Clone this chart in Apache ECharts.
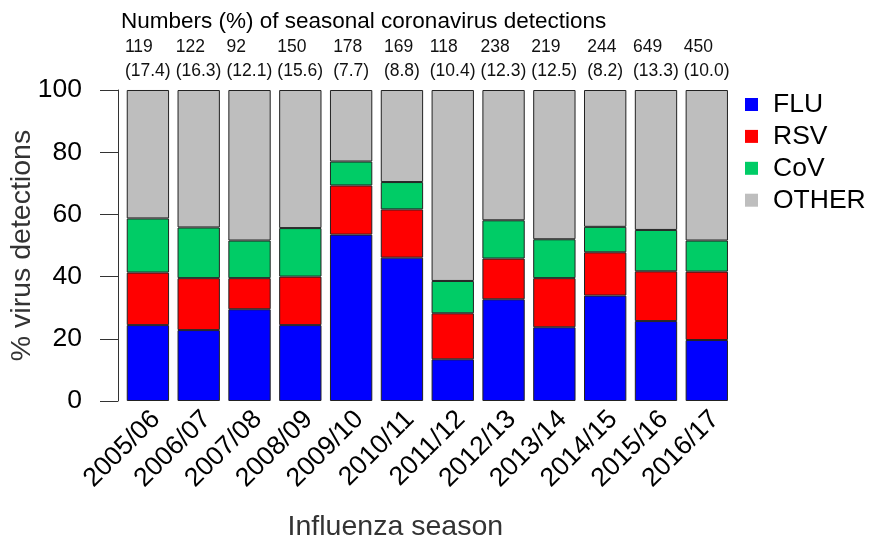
<!DOCTYPE html>
<html>
<head>
<meta charset="utf-8">
<script src="https://cdn.jsdelivr.net/npm/echarts@6/dist/echarts.min.js"></script>
<style>
html,body{margin:0;padding:0;background:#fff;}
#main{width:873px;height:540px;}
</style>
</head>
<body>
<div id="main"></div>
<script>
//季节
var seasons = ['2005/06','2006/07','2007/08','2008/09','2009/10','2010/11','2011/12','2012/13','2013/14','2014/15','2015/16','2016/17'];
//各病毒百分比
var flu = [24.4,22.8,29.5,24.4,53.5,46.1,13.4,32.7,23.7,33.9,25.7,19.6];
var rsv = [16.9,16.7,10.0,15.6,15.8,15.5,14.8,13.1,15.8,13.9,16.0,22.0];
var cov = [17.4,16.3,12.1,15.6,7.7,8.8,10.4,12.3,12.5,8.2,13.3,10.0];
var other = [41.3,44.2,48.4,44.4,23.0,29.6,61.4,41.9,48.0,44.0,45.0,48.4];
//冠状病毒检测数
var covCounts = [119,122,92,150,178,169,118,238,219,244,649,450];
var yTicks = [0,20,40,60,80,100];

var FONT = '"Liberation Sans", Arial, sans-serif';
var numSize = 17.5;

var ctx = document.createElement('canvas').getContext('2d');
ctx.font = numSize + 'px "Liberation Sans"';

//顶部标签
var otherData = other.map(function (v, i) {
    var a = String(covCounts[i]);
    var b = '(' + cov[i].toFixed(1) + ')';
    var w = Math.ceil(Math.max(ctx.measureText(a).width, ctx.measureText(b).width));
    return {
        value: v,
        label: {
            show: true,
            position: 'top',
            distance: 7,
            formatter: '{t|' + a + '}\n{t|' + b + '}',
            rich: {
                t: {width: w, align: 'left', fontSize: numSize, lineHeight: 24, color: '#111', fontFamily: FONT}
            }
        }
    };
});

function bar(name, data, color) {
    return {
        name: name,
        type: 'bar',
        stack: 'all',
        data: data,
        barCategoryGap: '16.67%',
        itemStyle: {color: color, borderColor: '#222', borderWidth: 1},
        emphasis: {disabled: true}
    };
}

var myChart = echarts.init(document.getElementById('main'));
var option = {
    animation: false,
    title: {
        text: 'Numbers (%) of seasonal coronavirus detections',
        left: 121,
        top: 10,
        padding: 0,
        textStyle: {fontSize: 22.5, fontWeight: 'normal', color: '#000', fontFamily: FONT}
    },
    legend: {
        orient: 'vertical',
        left: 740,
        top: 86,
        itemWidth: 13,
        itemHeight: 13,
        itemGap: 4.9,
        icon: 'rect',
        data: ['FLU', 'RSV', 'CoV', 'OTHER'],
        textStyle: {fontSize: 26.5, lineHeight: 25, color: '#000', fontFamily: FONT, padding: [0, 0, 0, 10]},
        itemStyle: {borderWidth: 0}
    },
    grid: {left: 122.5, right: 140.8, top: 90, bottom: 139, containLabel: false, outerBoundsMode: 'none'},
    xAxis: {
        type: 'category',
        data: seasons,
        axisLine: {show: false},
        axisTick: {show: false},
        axisLabel: {rotate: 45, margin: 6, verticalAlign: 'top', lineHeight: 23, fontSize: 26.5, color: '#000', fontFamily: FONT, interval: 0},
        name: 'Influenza season',
        nameLocation: 'middle',
        nameGap: 112,
        nameMoveOverlap: false,
        nameTextStyle: {fontSize: 28.5, color: '#333', fontFamily: FONT, padding: [0, 64, 0, 0]}
    },
    yAxis: {
        type: 'value',
        min: yTicks[0],
        max: yTicks[yTicks.length - 1],
        interval: 20,
        offset: 4.5,
        axisLine: {show: true, lineStyle: {color: '#333', width: 1}},
        axisTick: {show: true, length: 18, lineStyle: {color: '#333', width: 1}},
        splitLine: {show: false},
        axisLabel: {margin: 36, fontSize: 26.5, color: '#000', fontFamily: FONT},
        name: '% virus detections',
        nameLocation: 'middle',
        nameGap: 81,
        nameMoveOverlap: false,
        nameRotate: 90,
        nameTextStyle: {fontSize: 28.5, color: '#333', fontFamily: FONT}
    },
    series: [
        bar('FLU', flu, '#0000ff'),
        bar('RSV', rsv, '#ff0000'),
        bar('CoV', cov, '#00cc66'),
        bar('OTHER', otherData, '#bebebe')
    ]
};
myChart.setOption(option);
</script>
</body>
</html>
